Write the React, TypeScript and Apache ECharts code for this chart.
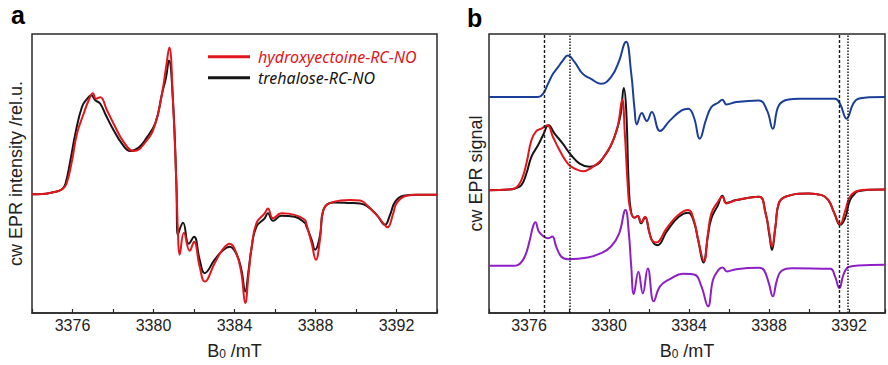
import React, { useEffect, useRef } from "react";
import * as echarts from "echarts";

// ---------- Panel a: cw EPR spectra (relative intensity) ----------
const hydroxyA: [number, number][] = [
  [3374.0, -0.3], [3374.5, 0], [3375.0, 1.5], [3375.3, 3], [3375.5, 5], [3375.7, 10],
  [3375.98, 33.8], [3376.22, 60.5], [3376.55, 80.5], [3376.8, 94], [3377.01, 101],
  [3377.16, 95.5], [3377.37, 97], [3377.7, 84], [3378.03, 70.5], [3378.53, 52],
  [3379.02, 43], [3379.68, 54], [3380.09, 70.5], [3380.42, 100.5], [3380.62, 127],
  [3380.78, 147], [3380.96, 94], [3381.13, 10], [3381.21, -40], [3381.29, -61],
  [3381.5, -39], [3381.79, -57], [3382.0, -48], [3382.28, -73], [3382.53, -88],
  [3383.02, -69.5], [3383.41, -56], [3383.76, -50], [3384.09, -59.5], [3384.34, -79.5],
  [3384.53, -109.5], [3384.7, -79.5], [3384.83, -56], [3385.08, -29.5], [3385.49, -19.5],
  [3385.65, -14.5], [3385.9, -24.5], [3386.31, -19.5], [3386.97, -21], [3387.47, -26],
  [3387.56, -31], [3387.81, -49.5], [3388.02, -66], [3388.22, -46], [3388.39, -16],
  [3388.88, -8], [3389.7, -6], [3390.2, -6.5], [3390.53, -11], [3391.02, -21],
  [3391.35, -29.5], [3391.55, -33.5], [3391.84, -19.5], [3392.0, -9.5], [3392.5, -1.8],
  [3393.0, -0.8], [3394.0, -0.8],
];

const trehaloseA: [number, number][] = [
  [3374.0, -0.3], [3374.5, 0], [3375.0, 1.5], [3375.3, 3], [3375.5, 5], [3375.65, 10],
  [3375.9, 34], [3376.14, 60.5], [3376.47, 87.5], [3376.72, 95.5], [3376.93, 99],
  [3377.13, 94], [3377.37, 90.5], [3377.65, 79], [3377.95, 67], [3378.44, 50.5],
  [3378.86, 43], [3379.27, 46.5], [3379.6, 54.5], [3380.09, 71], [3380.42, 100.5],
  [3380.62, 117], [3380.76, 134], [3380.96, 94], [3381.13, 10], [3381.2, -41],
  [3381.46, -29], [3381.74, -50], [3382.0, -43], [3382.28, -66], [3382.53, -79.5],
  [3383.02, -66], [3383.41, -57], [3383.76, -53], [3384.09, -60], [3384.34, -76],
  [3384.53, -98], [3384.7, -76], [3384.83, -56], [3385.08, -33], [3385.49, -24.5],
  [3385.65, -19.5], [3385.9, -27], [3386.31, -22], [3386.97, -23], [3387.47, -29],
  [3387.56, -33], [3387.81, -46], [3387.98, -56], [3388.22, -42], [3388.39, -16],
  [3388.88, -8.5], [3389.7, -9], [3390.2, -9.5], [3390.53, -12], [3391.02, -21],
  [3391.43, -31], [3391.68, -21], [3391.93, -8], [3392.34, -1.8], [3393.0, -0.8],
  [3394.0, -0.8],
];

// ---------- Panel b: cw EPR signals (each relative to its own baseline) ----------
const blueB: [number, number][] = [
  [3374.0, 0], [3376.45, 0], [3376.7, 3.3], [3376.95, 13.3], [3377.2, 23.3], [3377.45, 30],
  [3377.69, 36.6], [3377.94, 41.6], [3378.28, 35], [3378.69, 23.3], [3379.1, 18.3],
  [3379.6, 13.3], [3380.1, 20], [3380.51, 36.6], [3380.76, 53.3], [3380.86, 55.6],
  [3381.11, 24], [3381.28, -12.7], [3381.39, -27.4], [3381.64, -16], [3381.89, -24],
  [3382.14, -15], [3382.55, -34], [3383.05, -23.4], [3383.63, -13.4], [3383.96, -11.7],
  [3384.24, -20], [3384.54, -41.7], [3384.84, -23.4], [3385.12, -10], [3385.45, -5.7],
  [3385.67, -2.7], [3385.87, -7.4], [3386.36, -5], [3387.49, -3.4], [3387.9, -13.4],
  [3388.19, -31.7], [3388.49, -8.4], [3388.98, -2.4], [3389.5, -1.7], [3391.3, -1.7],
  [3391.55, -6.7], [3391.88, -21.7], [3392.21, -6.7], [3392.46, -1.7], [3393.0, -0.3],
  [3393.8, 0],
];

const hydroxyB: [number, number][] = [
  [3374.0, 0.3], [3375.0, 1], [3375.29, 2], [3375.62, 10.3], [3375.87, 27], [3376.12, 50.3],
  [3376.37, 59.7], [3376.62, 62], [3376.91, 65.3], [3377.2, 53.7], [3377.53, 40.3],
  [3377.94, 27], [3378.28, 22], [3378.69, 19.3], [3379.19, 23.7], [3379.68, 32],
  [3380.1, 45.3], [3380.43, 63.7], [3380.66, 91], [3380.79, 57.7], [3380.94, 4.3],
  [3381.06, -19], [3381.28, -27.3], [3381.44, -25.7], [3381.6, -32], [3381.8, -26.5],
  [3382.02, -42.3], [3382.14, -49.7], [3382.35, -52.3], [3382.88, -38], [3383.46, -24.7],
  [3383.96, -19.7], [3384.24, -29.7], [3384.46, -49.7], [3384.75, -70.7], [3384.95, -43],
  [3385.12, -23], [3385.45, -11.3], [3385.67, -6.3], [3385.87, -13], [3386.36, -9.7],
  [3387.49, -6.3], [3387.83, -23], [3388.02, -43], [3388.15, -56.3], [3388.32, -36.3],
  [3388.49, -13], [3388.82, -6.3], [3389.98, -3], [3390.64, -4.7], [3390.97, -9.7],
  [3391.27, -23], [3391.55, -33.7], [3391.8, -21.3], [3392.05, -6.3], [3392.46, -0.3],
  [3393.0, 0.7], [3393.8, 1],
];

const trehaloseB: [number, number][] = [
  [3374.0, 0.3], [3375.0, 1], [3375.3, 2], [3375.62, 5.3], [3375.87, 17], [3376.12, 33.7],
  [3376.45, 45.3], [3376.7, 55.3], [3376.98, 65.3], [3377.28, 57], [3377.69, 47],
  [3378.11, 35.3], [3378.53, 27], [3379.02, 23.7], [3379.44, 26.3], [3379.68, 32],
  [3380.1, 45.3], [3380.43, 63.7], [3380.59, 77], [3380.74, 102.7], [3380.86, 81],
  [3380.99, 4.3], [3381.11, -22.3], [3381.28, -27.3], [3381.44, -25.7], [3381.6, -33],
  [3381.8, -27], [3382.02, -42.3], [3382.2, -52], [3382.43, -55], [3382.88, -41.3],
  [3383.46, -27], [3383.96, -22.3], [3384.24, -31], [3384.46, -50], [3384.72, -72.3],
  [3384.95, -45], [3385.12, -28], [3385.45, -14.7], [3385.67, -5.3], [3385.87, -12.5],
  [3386.36, -9.7], [3387.49, -6.3], [3387.83, -23], [3388.02, -45], [3388.15, -59.7],
  [3388.32, -37], [3388.49, -13], [3388.82, -6.3], [3389.98, -3], [3390.64, -4.7],
  [3390.97, -9.7], [3391.27, -23], [3391.55, -34.5], [3391.8, -28], [3392.05, -9.7],
  [3392.35, -2], [3392.46, -0.8], [3393.0, 0.7], [3393.8, 1],
];

const violetB: [number, number][] = [
  [3374.0, 0], [3375.2, 0], [3375.46, 1], [3375.79, 9.4], [3376.04, 26], [3376.2, 39.4],
  [3376.32, 43.7], [3376.49, 34.4], [3376.7, 30], [3376.95, 27.7], [3377.16, 29.4],
  [3377.36, 19.4], [3377.61, 9.4], [3377.94, 6.7], [3378.94, 8.4], [3379.6, 12.7],
  [3380.1, 19.4], [3380.51, 32.7], [3380.76, 54.4], [3380.83, 56], [3380.99, 33.4],
  [3381.11, 0], [3381.24, -28.3], [3381.47, -6], [3381.69, -27.6], [3381.94, -2.6],
  [3382.24, -35.6], [3382.55, -20.6], [3383.05, -13.3], [3383.71, -8], [3384.29, -9],
  [3384.62, -20.6], [3384.95, -40.6], [3385.2, -14], [3385.45, -4.6], [3385.67, -1.6],
  [3385.9, -5.6], [3386.36, -3.3], [3387.5, -2], [3387.74, -4], [3387.99, -17.3],
  [3388.19, -30.6], [3388.4, -14], [3388.65, -4.6], [3389.15, -2.3], [3391.06, -3],
  [3391.3, -10.6], [3391.52, -22.3], [3391.72, -9], [3391.97, -1.3], [3392.46, 0.3],
  [3393.8, 1],
];

// vertical offsets of the stacked traces in panel b
const blueOffset = 93.7;
const violetOffset = -75.7;

// dashed / dotted marker fields in panel b (mT)
const dashedFields = [3376.76, 3391.52];
const dottedFields = [3378.03, 3391.93];

const xTickLabels = [3376, 3380, 3384, 3388, 3392];

const FONT = "'Liberation Sans', Arial, sans-serif";
const AXIS_COLOR = "#2a2a2a";
const RED = "#e2161c";
const BLACK = "#151515";
const BLUE = "#1b3f98";
const VIOLET = "#8c1fc6";

const shift = (d: [number, number][], off: number) => d.map(([x, y]) => [x, y + off]);

const xAxisFor = (gridIndex: number, max: number) => ({
  type: "value",
  gridIndex,
  min: 3374,
  max,
  interval: 2,
  name: "{m|B}{s|0}{m| /mT}",
  nameLocation: "middle",
  nameGap: 28,
  nameTextStyle: {
    color: "#222",
    fontFamily: FONT,
    rich: {
      m: { fontSize: 18, lineHeight: 19, fontFamily: FONT, color: "#222" },
      s: { fontSize: 12, lineHeight: 6, verticalAlign: "bottom", fontFamily: FONT, color: "#222" },
    },
  },
  axisLine: { show: true, onZero: false, lineStyle: { color: AXIS_COLOR, width: 1.5 } },
  axisTick: { show: true, inside: true, length: 4, lineStyle: { color: AXIS_COLOR, width: 1.2 } },
  axisLabel: {
    show: true,
    margin: 4,
    fontSize: 16,
    fontFamily: FONT,
    color: "#222",
    showMinLabel: true,
    showMaxLabel: true,
    formatter: (v: number) => (xTickLabels.includes(Math.round(v * 100) / 100) ? String(v) : ""),
  },
  splitLine: { show: false },
});

const yAxisFor = (gridIndex: number, min: number, max: number, name: string, gap: number) => ({
  type: "value",
  gridIndex,
  min,
  max,
  name,
  nameLocation: "middle",
  nameRotate: 90,
  nameGap: gap,
  nameTextStyle: { fontSize: 18, fontFamily: FONT, color: "#222" },
  axisLine: { show: false },
  axisTick: { show: false },
  axisLabel: { show: false },
  splitLine: { show: false },
});

const lineSeries = (name: string, data: number[][], color: string, xi: number, z = 2, extra: any = {}) => ({
  type: "line",
  name,
  xAxisIndex: xi,
  yAxisIndex: xi,
  data,
  showSymbol: false,
  symbol: "none",
  smooth: 0.45,
  lineStyle: { color, width: 2 },
  itemStyle: { color },
  z,
  ...extra,
});

const markerLines = [
  ...dashedFields.map((x) => ({ xAxis: x, lineStyle: { type: [3, 2], color: "#1a1a1a", width: 1.4 } })),
  ...dottedFields.map((x) => ({ xAxis: x, lineStyle: { type: [1.5, 1.5], color: "#1a1a1a", width: 1.5 } })),
];

export default function App() {
  const ref = useRef<HTMLDivElement>(null);
  useEffect(() => {
    if (!ref.current) return;
    const chart = echarts.init(ref.current, null, { renderer: "svg" });
    const option: any = {
      animation: false,
      backgroundColor: "#ffffff",
      grid: [
        { left: 32, top: 34, width: 405, height: 280, show: true, borderColor: AXIS_COLOR, borderWidth: 1.5, containLabel: false },
        { left: 489, top: 34, width: 398.5, height: 280, show: true, borderColor: AXIS_COLOR, borderWidth: 1.5, containLabel: false },
      ],
      xAxis: [xAxisFor(0, 3394), xAxisFor(1, 3393.8)],
      yAxis: [
        yAxisFor(0, -119.5, 160.5, "cw EPR intensity /rel.u.", 7),
        yAxisFor(1, -123, 157, "cw EPR signal", 4),
      ],
      legend: {
        show: true,
        orient: "vertical",
        left: 208,
        top: 46.7,
        padding: 0,
        itemGap: 1,
        itemWidth: 42,
        itemHeight: 3,
        icon: "rect",
        data: [
          { name: "hydroxyectoine-RC-NO", textStyle: { color: RED } },
          { name: "trehalose-RC-NO", textStyle: { color: BLACK } },
        ],
        textStyle: {
          fontFamily: "'Noto Sans', sans-serif",
          fontStyle: "italic",
          fontSize: 16,
          lineHeight: 20,
          padding: [0, 0, 0, 3],
        },
        selectedMode: false,
      },
      graphic: [
        { type: "text", left: 11, top: 2, style: { text: "a", font: `bold 25px ${FONT}`, fill: "#000" } },
        { type: "text", left: 467, top: 5, style: { text: "b", font: `bold 25px ${FONT}`, fill: "#000" } },
      ],
      series: [
        lineSeries("trehalose-RC-NO", trehaloseA, BLACK, 0, 2),
        lineSeries("hydroxyectoine-RC-NO", hydroxyA, RED, 0, 3),
        lineSeries("b: blue trace", shift(blueB, blueOffset), BLUE, 1, 2),
        lineSeries("b: trehalose-RC-NO", trehaloseB, BLACK, 1, 2),
        lineSeries("b: hydroxyectoine-RC-NO", hydroxyB, RED, 1, 3),
        lineSeries("b: violet trace", shift(violetB, violetOffset), VIOLET, 1, 2, {
          markLine: {
            silent: true,
            symbol: ["none", "none"],
            label: { show: false },
            data: markerLines,
          },
        }),
      ],
    };
    chart.setOption(option);
    return () => chart.dispose();
  }, []);
  return (
    <div
      ref={ref}
      style={{ position: "fixed", left: 0, top: 0, width: 888, height: 365, background: "#fff" }}
    />
  );
}
